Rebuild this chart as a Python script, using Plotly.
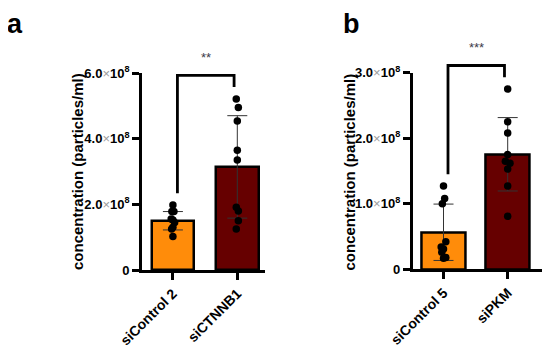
import plotly.graph_objects as go

# ---------------- data ----------------
cats_a = ["siControl 2", "siCTNNB1"]
mean_a = [1.50e8, 3.14e8]
sd_a = [0.28e8, 1.56e8]
pts_a_ctrl = [1.98e8, 1.78e8, 1.78e8, 1.55e8, 1.52e8, 1.45e8, 1.30e8, 1.25e8, 1.02e8]
pts_a_si = [5.21e8, 4.95e8, 4.54e8, 3.65e8, 3.35e8, 1.91e8, 1.80e8, 1.50e8, 1.25e8]
jit_a_ctrl = [0.0, -0.18, 0.18, -0.3, 0.0, 0.3, 0.0, -0.22, 0.0]
jit_a_si = [-0.18, 0.18, 0.0, 0.0, 0.0, -0.18, 0.18, 0.18, -0.18]
sig_a = "**"
yticks_a = [0, 2e8, 4e8, 6e8]
yticklab_a = ["0", "2.0", "4.0", "6.0"]

cats_b = ["siControl 5", "siPKM"]
mean_b = [0.565e8, 1.755e8]
sd_b = [0.43e8, 0.56e8]
pts_b_ctrl = [1.27e8, 1.08e8, 1.00e8, 0.42e8, 0.34e8, 0.26e8, 0.31e8, 0.17e8, 0.18e8]
pts_b_si = [2.75e8, 2.25e8, 2.08e8, 1.75e8, 1.65e8, 1.62e8, 1.53e8, 1.27e8, 0.81e8]
jit_b_ctrl = [0.0, 0.2, -0.2, 0.4, -0.4, -0.3, 0.0, 0.0, 0.4]
jit_b_si = [0.0, 0.0, 0.0, 0.0, -0.4, 0.4, 0.0, 0.0, 0.0]
sig_b = "***"
yticks_b = [0, 1e8, 2e8, 3e8]
yticklab_b = ["0", "1.0", "2.0", "3.0"]

ytitle = "concentration (particles/ml)"
colors = ["#FF8C0A", "#660000"]
FONT = "Arial, Liberation Sans, sans-serif"

# page body has an 8px margin: figure occupies window pixels 8..550 / 8..350
OFF = 8
W, H = 550 - OFF, 350 - OFF


def px(x):
    return (x - OFF) / W


def py(y):
    return (350 - y) / H


fig = go.Figure()


def fmt(lbl):
    if lbl == "0":
        return "<b>0</b>"
    return ("<b>" + lbl + "</b><span style='color:#9a9a9a'>×</span>"
            "<b>10<sup>8</sup></b>")


def panel(xa, ya, cats, mean, sd, ctrl, si, jc, js, sig, ymax, xrange, bw):
    xs = [0, 1]
    fig.add_trace(go.Bar(
        x=xs, y=mean, width=bw, xaxis=xa, yaxis=ya,
        marker=dict(color=colors, line=dict(color="black", width=2.5)),
        error_y=dict(type="data", array=sd, visible=True, color="#333333",
                     thickness=1, width=10),
        showlegend=False, cliponaxis=False))
    step = 0.09
    fig.add_trace(go.Scatter(
        x=[0 + j * step for j in jc] + [1 + j * step for j in js],
        y=ctrl + si, mode="markers", xaxis=xa, yaxis=ya,
        marker=dict(color="black", size=7.5), showlegend=False, cliponaxis=False))
    gap = 0.06 * ymax
    l_bot = max(ctrl) + gap
    r_bot = max(si) + gap
    top = max(ctrl + si) + 2 * gap
    xl, xr = 0.07, 0.95
    xd = lambda v: (v - xrange[0]) / (xrange[1] - xrange[0])
    yd = lambda v: v / ymax
    xref = ("x" if xa == "x" else "x2") + " domain"
    yref = ("y" if ya == "y" else "y2") + " domain"
    path = "M{},{} L{},{} L{},{} L{},{}".format(
        xd(xl), yd(l_bot), xd(xl), yd(top), xd(xr), yd(top), xd(xr), yd(r_bot))
    fig.add_shape(type="path", path=path, xref=xref, yref=yref,
                  line=dict(color="black", width=2.8), layer="above")
    fig.add_annotation(x=xd((xl + xr) / 2), y=yd(top), xref=xref, yref=yref,
                       text=sig, showarrow=False, yanchor="bottom", yshift=8,
                       font=dict(size=13, color="#3a3a4a", family=FONT))


xr_a = [-0.48, 1.43]
xr_b = [-0.48, 1.53]
panel("x", "y", cats_a, mean_a, sd_a, pts_a_ctrl, pts_a_si, jit_a_ctrl, jit_a_si,
      sig_a, 6e8, xr_a, 0.66)
panel("x2", "y2", cats_b, mean_b, sd_b, pts_b_ctrl, pts_b_si, jit_b_ctrl, jit_b_si,
      sig_b, 3e8, xr_b, 0.69)

axis_common = dict(showline=True, linecolor="black", linewidth=2.8, ticks="outside",
                   tickwidth=2.5, tickcolor="black", showgrid=False, zeroline=False,
                   mirror=False, automargin=False)

fig.update_layout(
    width=W, height=H, margin=dict(l=0, r=0, t=0, b=0),
    plot_bgcolor="white", paper_bgcolor="white",
    font=dict(family=FONT, color="black"),
    bargap=0,
    xaxis=dict(domain=[px(142), px(265)], range=xr_a,
               tickvals=[0, 1], ticktext=["<b>" + c + "</b>" for c in cats_a],
               tickangle=-45, ticklen=7, tickfont=dict(size=14), anchor="y",
               **axis_common),
    yaxis=dict(domain=[py(270), py(73)], range=[0, 6e8], tickvals=yticks_a,
               ticktext=[fmt(t) for t in yticklab_a], ticklen=7,
               tickfont=dict(size=13), anchor="x", **axis_common),
    xaxis2=dict(domain=[px(412.7), px(541.7)], range=xr_b,
                tickvals=[0, 1], ticktext=["<b>" + c + "</b>" for c in cats_b],
                tickangle=-45, ticklen=7, tickfont=dict(size=14), anchor="y2",
                **axis_common),
    yaxis2=dict(domain=[py(269.3), py(72.7)], range=[0, 3e8], tickvals=yticks_b,
                ticktext=[fmt(t) for t in yticklab_b], ticklen=7,
                tickfont=dict(size=13), anchor="x2", **axis_common),
)

for xc in (77, 348.5):
    fig.add_annotation(x=px(xc), y=py(172), xref="paper", yref="paper",
                       text="<b>" + ytitle + "</b>", textangle=-90, showarrow=False,
                       xanchor="center", yanchor="middle",
                       font=dict(size=15, family=FONT))
for xc, lab in ((15, "a"), (351, "b")):
    fig.add_annotation(x=px(xc), y=py(24), xref="paper", yref="paper",
                       text="<b>" + lab + "</b>", showarrow=False,
                       xanchor="center", yanchor="middle",
                       font=dict(size=27, family=FONT))

fig.write_html("out.html")
